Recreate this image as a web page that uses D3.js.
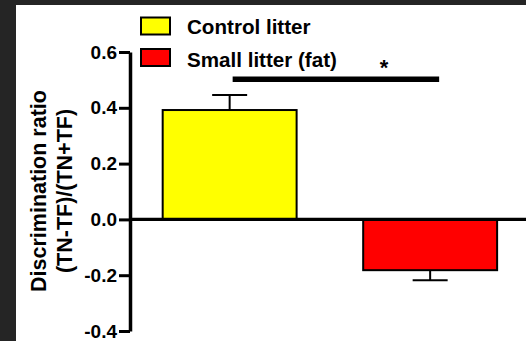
<!DOCTYPE html>
<html>
<head>
<meta charset="utf-8">
<title>Discrimination ratio</title>
<script src="https://cdnjs.cloudflare.com/ajax/libs/d3/7.8.5/d3.min.js"></script>
<style>
  body { margin: 0; background: #252525; }
  svg { display: block; }
  text { font-family: "Liberation Sans", Arial, sans-serif; font-weight: bold; fill: #000; }
</style>
</head>
<body>
<div id="chart"></div>
<script>
// chart values
var groups = ["Control litter", "Small litter (fat)"];
var means = [0.392, -0.182];
var sems = [0.054, 0.036];
var colors = ["#ffff00", "#ff0000"];
var yTicks = [-0.4, -0.2, 0.0, 0.2, 0.4, 0.6];
var sigLevel = 0.502; // height of the significance bar
var sigMark = "*";

var width = 526, height = 341;

var svg = d3.select('#chart').append('svg')
    .attr('width', width)
    .attr('height', height);

// white plotting area, dark frame on the left and top
svg.append('rect')
    .attr('x', 16).attr('y', 5)
    .attr('width', width - 16).attr('height', height - 5)
    .attr('fill', '#fff');

var y = d3.scaleLinear().domain([-0.4, 0.6]).range([331, 52]);
var x = d3.scaleBand().domain(groups)
    .range([129.6, 530.2])
    .paddingInner(0.332)
    .paddingOuter(0.165);

// bars
svg.selectAll('rect.bar')
    .data(groups)
    .enter().append('rect')
    .attr('class', 'bar')
    .attr('x', function(d){ return x(d); })
    .attr('width', x.bandwidth())
    .attr('y', function(d, i){ return y(Math.max(0, means[i])); })
    .attr('height', function(d, i){ return Math.abs(y(means[i]) - y(0)); })
    .attr('fill', function(d, i){ return colors[i]; })
    .attr('stroke', '#000')
    .attr('stroke-width', 2);

// error bars, only the outer side
var err = svg.selectAll('g.err')
    .data(groups)
    .enter().append('g')
    .attr('class', 'err')
    .attr('stroke', '#000')
    .attr('stroke-width', 2);
err.append('line')
    .attr('x1', function(d){ return x(d) + x.bandwidth() / 2; })
    .attr('x2', function(d){ return x(d) + x.bandwidth() / 2; })
    .attr('y1', function(d, i){ return y(means[i]); })
    .attr('y2', function(d, i){ return y(means[i] + (means[i] < 0 ? -sems[i] : sems[i])); });
err.append('line')
    .attr('x1', function(d){ return x(d) + x.bandwidth() / 2 - 17.5; })
    .attr('x2', function(d){ return x(d) + x.bandwidth() / 2 + 17.5; })
    .attr('y1', function(d, i){ return y(means[i] + (means[i] < 0 ? -sems[i] : sems[i])); })
    .attr('y2', function(d, i){ return y(means[i] + (means[i] < 0 ? -sems[i] : sems[i])); });

// zero line across the plot
svg.append('line')
    .attr('x1', 130).attr('x2', width)
    .attr('y1', y(0)).attr('y2', y(0))
    .attr('stroke', '#000')
    .attr('stroke-width', 3.3);

// y axis
var yAxis = d3.axisLeft(y)
    .tickValues(yTicks)
    .tickSize(11)
    .tickSizeOuter(0)
    .tickPadding(2)
    .tickFormat(function(d){ return d3.format('.1f')(d).replace('\u2212', '-'); });

var ag = svg.append('g')
    .attr('transform', 'translate(130,0)')
    .call(yAxis);
ag.select('.domain').attr('stroke', '#000').attr('stroke-width', 3.5);
ag.selectAll('.tick line').attr('stroke', '#000').attr('stroke-width', 3);
ag.selectAll('.tick text')
    .attr('font-size', 19)
    .attr('font-family', '"Liberation Sans", Arial, sans-serif')
    .attr('font-weight', 'bold')
    .attr('fill', '#000');

// y title, two lines
var yt = svg.append('text')
    .attr('transform', 'translate(0,191) rotate(-90)')
    .attr('text-anchor', 'middle')
    .attr('font-size', 21.5);
yt.append('tspan').attr('x', 0).attr('y', 46).text('Discrimination ratio');
yt.append('tspan').attr('x', 0).attr('y', 72).text('(TN-TF)/(TN+TF)');

// significance bar and star
var c0 = x(groups[0]) + x.bandwidth() / 2, c1 = x(groups[1]) + x.bandwidth() / 2;
svg.append('line')
    .attr('x1', c0 + 3).attr('x2', c1 + 9)
    .attr('y1', y(sigLevel)).attr('y2', y(sigLevel))
    .attr('stroke', '#000')
    .attr('stroke-width', 5.5);
svg.append('text')
    .attr('x', 384).attr('y', y(sigLevel) - 4.5)
    .attr('text-anchor', 'middle')
    .attr('font-size', 22)
    .text(sigMark);

// legend
var lg = svg.selectAll('g.legend')
    .data(groups)
    .enter().append('g')
    .attr('class', 'legend');
lg.append('rect')
    .attr('x', 141)
    .attr('y', function(d, i){ return 17.5 + i * 31.5; })
    .attr('width', 29).attr('height', 17)
    .attr('fill', function(d, i){ return colors[i]; })
    .attr('stroke', '#000')
    .attr('stroke-width', 2);
lg.append('text')
    .attr('x', 187)
    .attr('y', function(d, i){ return 33.5 + i * 33; })
    .attr('font-size', 20.6)
    .text(function(d){ return d; });
</script>
</body>
</html>
